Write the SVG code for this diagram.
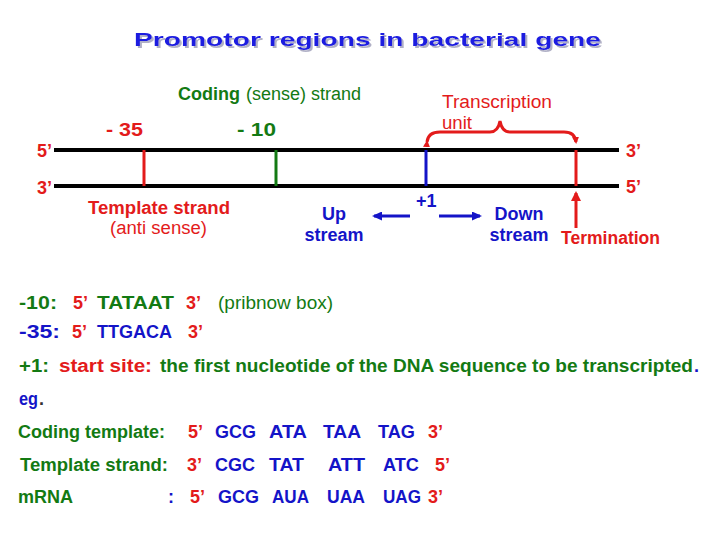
<svg xmlns="http://www.w3.org/2000/svg" width="720" height="540" viewBox="0 0 720 540">
<style>
text{font-family:"Liberation Sans",Arial,sans-serif;font-size:18px;font-weight:bold}
.n{font-weight:normal}
.r{fill:#e31b1b}
.g{fill:#137a13}
.b{fill:#1414c8}
.strand{stroke:#000;stroke-width:4}
.tick{stroke-width:3}
</style>
<defs>
<filter id="shadow" x="-5%" y="-20%" width="110%" height="150%"><feDropShadow dx="2" dy="2" stdDeviation="0.6" flood-color="#a8a8c0" flood-opacity="0.9"/></filter>
<marker id="ab" markerWidth="10" markerHeight="9" refX="8" refY="4.5" orient="auto" markerUnits="userSpaceOnUse"><path d="M0,0 L10,4.5 L0,9 Z" fill="#1414c8"/></marker>
<marker id="ar" markerWidth="10" markerHeight="10" refX="8" refY="5" orient="auto" markerUnits="userSpaceOnUse"><path d="M0,0 L10,5 L0,10 Z" fill="#e31b1b"/></marker>
<marker id="tip" markerWidth="7" markerHeight="7" refX="5" refY="3.5" orient="auto" markerUnits="userSpaceOnUse"><path d="M0,0 L7,3.5 L0,7 Z" fill="#e31b1b"/></marker>
</defs>
<rect width="720" height="540" fill="#fff"/>

<g id="title">
<text x="134" y="46" font-size="31" fill="#1a1ae0" filter="url(#shadow)" textLength="467" lengthAdjust="spacingAndGlyphs">Promotor regions in bacterial gene</text>
</g>

<g id="strands">
<line class="strand" x1="54" y1="150" x2="619" y2="150"/>
<line class="strand" x1="54" y1="186" x2="619" y2="186"/>
<text class="r" x="37" y="157">5’</text>
<text class="r" x="37" y="194">3’</text>
<text class="r" x="626" y="157">3’</text>
<text class="r" x="626" y="193">5’</text>
</g>

<g id="coding-label">
<text class="g" x="178" y="100" font-size="16">Coding</text>
<text class="g n" x="246" y="100">(sense) strand</text>
</g>

<g id="minus35">
<text class="r" x="106" y="136" textLength="37" lengthAdjust="spacingAndGlyphs">- 35</text>
<line class="tick" x1="144" y1="150" x2="144" y2="186" stroke="#e31b1b"/>
</g>

<g id="minus10">
<text class="g" x="237" y="136" textLength="39" lengthAdjust="spacingAndGlyphs">- 10</text>
<line class="tick" x1="276" y1="150" x2="276" y2="186" stroke="#137a13"/>
</g>

<g id="plus1">
<line class="tick" x1="426" y1="150" x2="426" y2="186" stroke="#1414c8"/>
<text class="b" x="416" y="207" font-size="16">+1</text>
</g>

<g id="termination">
<line class="tick" x1="576" y1="150" x2="576" y2="186" stroke="#e31b1b"/>
<text class="r" x="561" y="244" textLength="99" lengthAdjust="spacingAndGlyphs">Termination</text>
</g>

<g id="template-label">
<text class="r" x="88" y="214" textLength="142" lengthAdjust="spacingAndGlyphs">Template strand</text>
<text class="r n" x="110" y="234" textLength="97" lengthAdjust="spacingAndGlyphs">(anti sense)</text>
</g>

<g id="upstream">
<text class="b" x="334" y="220" text-anchor="middle">Up</text>
<text class="b" x="334" y="241" text-anchor="middle">stream</text>
</g>

<g id="downstream">
<text class="b" x="519" y="220" text-anchor="middle">Down</text>
<text class="b" x="519" y="241" text-anchor="middle">stream</text>
</g>

<g id="transcription-unit">
<text class="r n" x="442" y="108" textLength="110" lengthAdjust="spacingAndGlyphs">Transcription</text>
<text class="r n" x="442" y="129" textLength="30" lengthAdjust="spacingAndGlyphs">unit</text>
</g>

<g id="connectors" fill="none">
<path d="M427,142 Q428,132 440,132 L490,132 Q498,132 500,121 Q502,132 510,132 L564,132 Q575,132 576,142" stroke="#e31b1b" stroke-width="3" marker-start="url(#tip)" marker-end="url(#tip)"/>
<line x1="410" y1="216" x2="374" y2="216" stroke="#1414c8" stroke-width="3" marker-end="url(#ab)"/>
<line x1="439" y1="216" x2="480" y2="216" stroke="#1414c8" stroke-width="3" marker-end="url(#ab)"/>
<line x1="576" y1="228" x2="576" y2="193" stroke="#e31b1b" stroke-width="3" marker-end="url(#ar)"/>
</g>

<g id="notes">
<text class="g" x="19" y="309" textLength="38" lengthAdjust="spacingAndGlyphs">-10:</text>
<text class="r" x="73" y="309">5’</text>
<text class="g" x="97" y="309" textLength="77" lengthAdjust="spacingAndGlyphs">TATAAT</text>
<text class="r" x="186" y="309">3’</text>
<text class="g n" x="218" y="309" textLength="115" lengthAdjust="spacingAndGlyphs">(pribnow box)</text>

<text class="b" x="19" y="338" textLength="41" lengthAdjust="spacingAndGlyphs">-35:</text>
<text class="r" x="72" y="338">5’</text>
<text class="b" x="97" y="338">TTGACA</text>
<text class="r" x="188" y="338">3’</text>

<text class="g" x="19" y="372" textLength="30" lengthAdjust="spacingAndGlyphs">+1:</text>
<text class="r" x="59" y="372" textLength="93" lengthAdjust="spacingAndGlyphs">start site:</text>
<text class="g" x="160" y="372" textLength="533" lengthAdjust="spacingAndGlyphs">the first nucleotide of the DNA sequence to be transcripted</text>
<text class="b" x="694" y="372">.</text>

<text class="b" x="19" y="405" textLength="19" lengthAdjust="spacingAndGlyphs">eg</text>
<text x="39" y="405" fill="#333">.</text>
</g>

<g id="sequences">
<text class="g" x="18" y="438" textLength="147" lengthAdjust="spacingAndGlyphs">Coding template:</text>
<text class="r" x="188" y="438">5’</text>
<text class="b" x="215" y="438">GCG</text>
<text class="b" x="269" y="438" textLength="38" lengthAdjust="spacingAndGlyphs">ATA</text>
<text class="b" x="323" y="438" textLength="38" lengthAdjust="spacingAndGlyphs">TAA</text>
<text class="b" x="378" y="438" textLength="37" lengthAdjust="spacingAndGlyphs">TAG</text>
<text class="r" x="428" y="438">3’</text>

<text class="g" x="20" y="471" textLength="148" lengthAdjust="spacingAndGlyphs">Template strand:</text>
<text class="r" x="187" y="471">3’</text>
<text class="b" x="215" y="471">CGC</text>
<text class="b" x="269" y="471" textLength="35" lengthAdjust="spacingAndGlyphs">TAT</text>
<text class="b" x="328" y="471" textLength="37" lengthAdjust="spacingAndGlyphs">ATT</text>
<text class="b" x="383" y="471" textLength="36" lengthAdjust="spacingAndGlyphs">ATC</text>
<text class="r" x="435" y="471">5’</text>

<text class="g" x="18" y="503">mRNA</text>
<text class="b" x="168" y="503">:</text>
<text class="r" x="190" y="503">5’</text>
<text class="b" x="218" y="503">GCG</text>
<text class="b" x="272" y="503" textLength="37" lengthAdjust="spacingAndGlyphs">AUA</text>
<text class="b" x="327" y="503" textLength="38" lengthAdjust="spacingAndGlyphs">UAA</text>
<text class="b" x="383" y="503" textLength="38" lengthAdjust="spacingAndGlyphs">UAG</text>
<text class="r" x="428" y="503">3’</text>
</g>
</svg>
